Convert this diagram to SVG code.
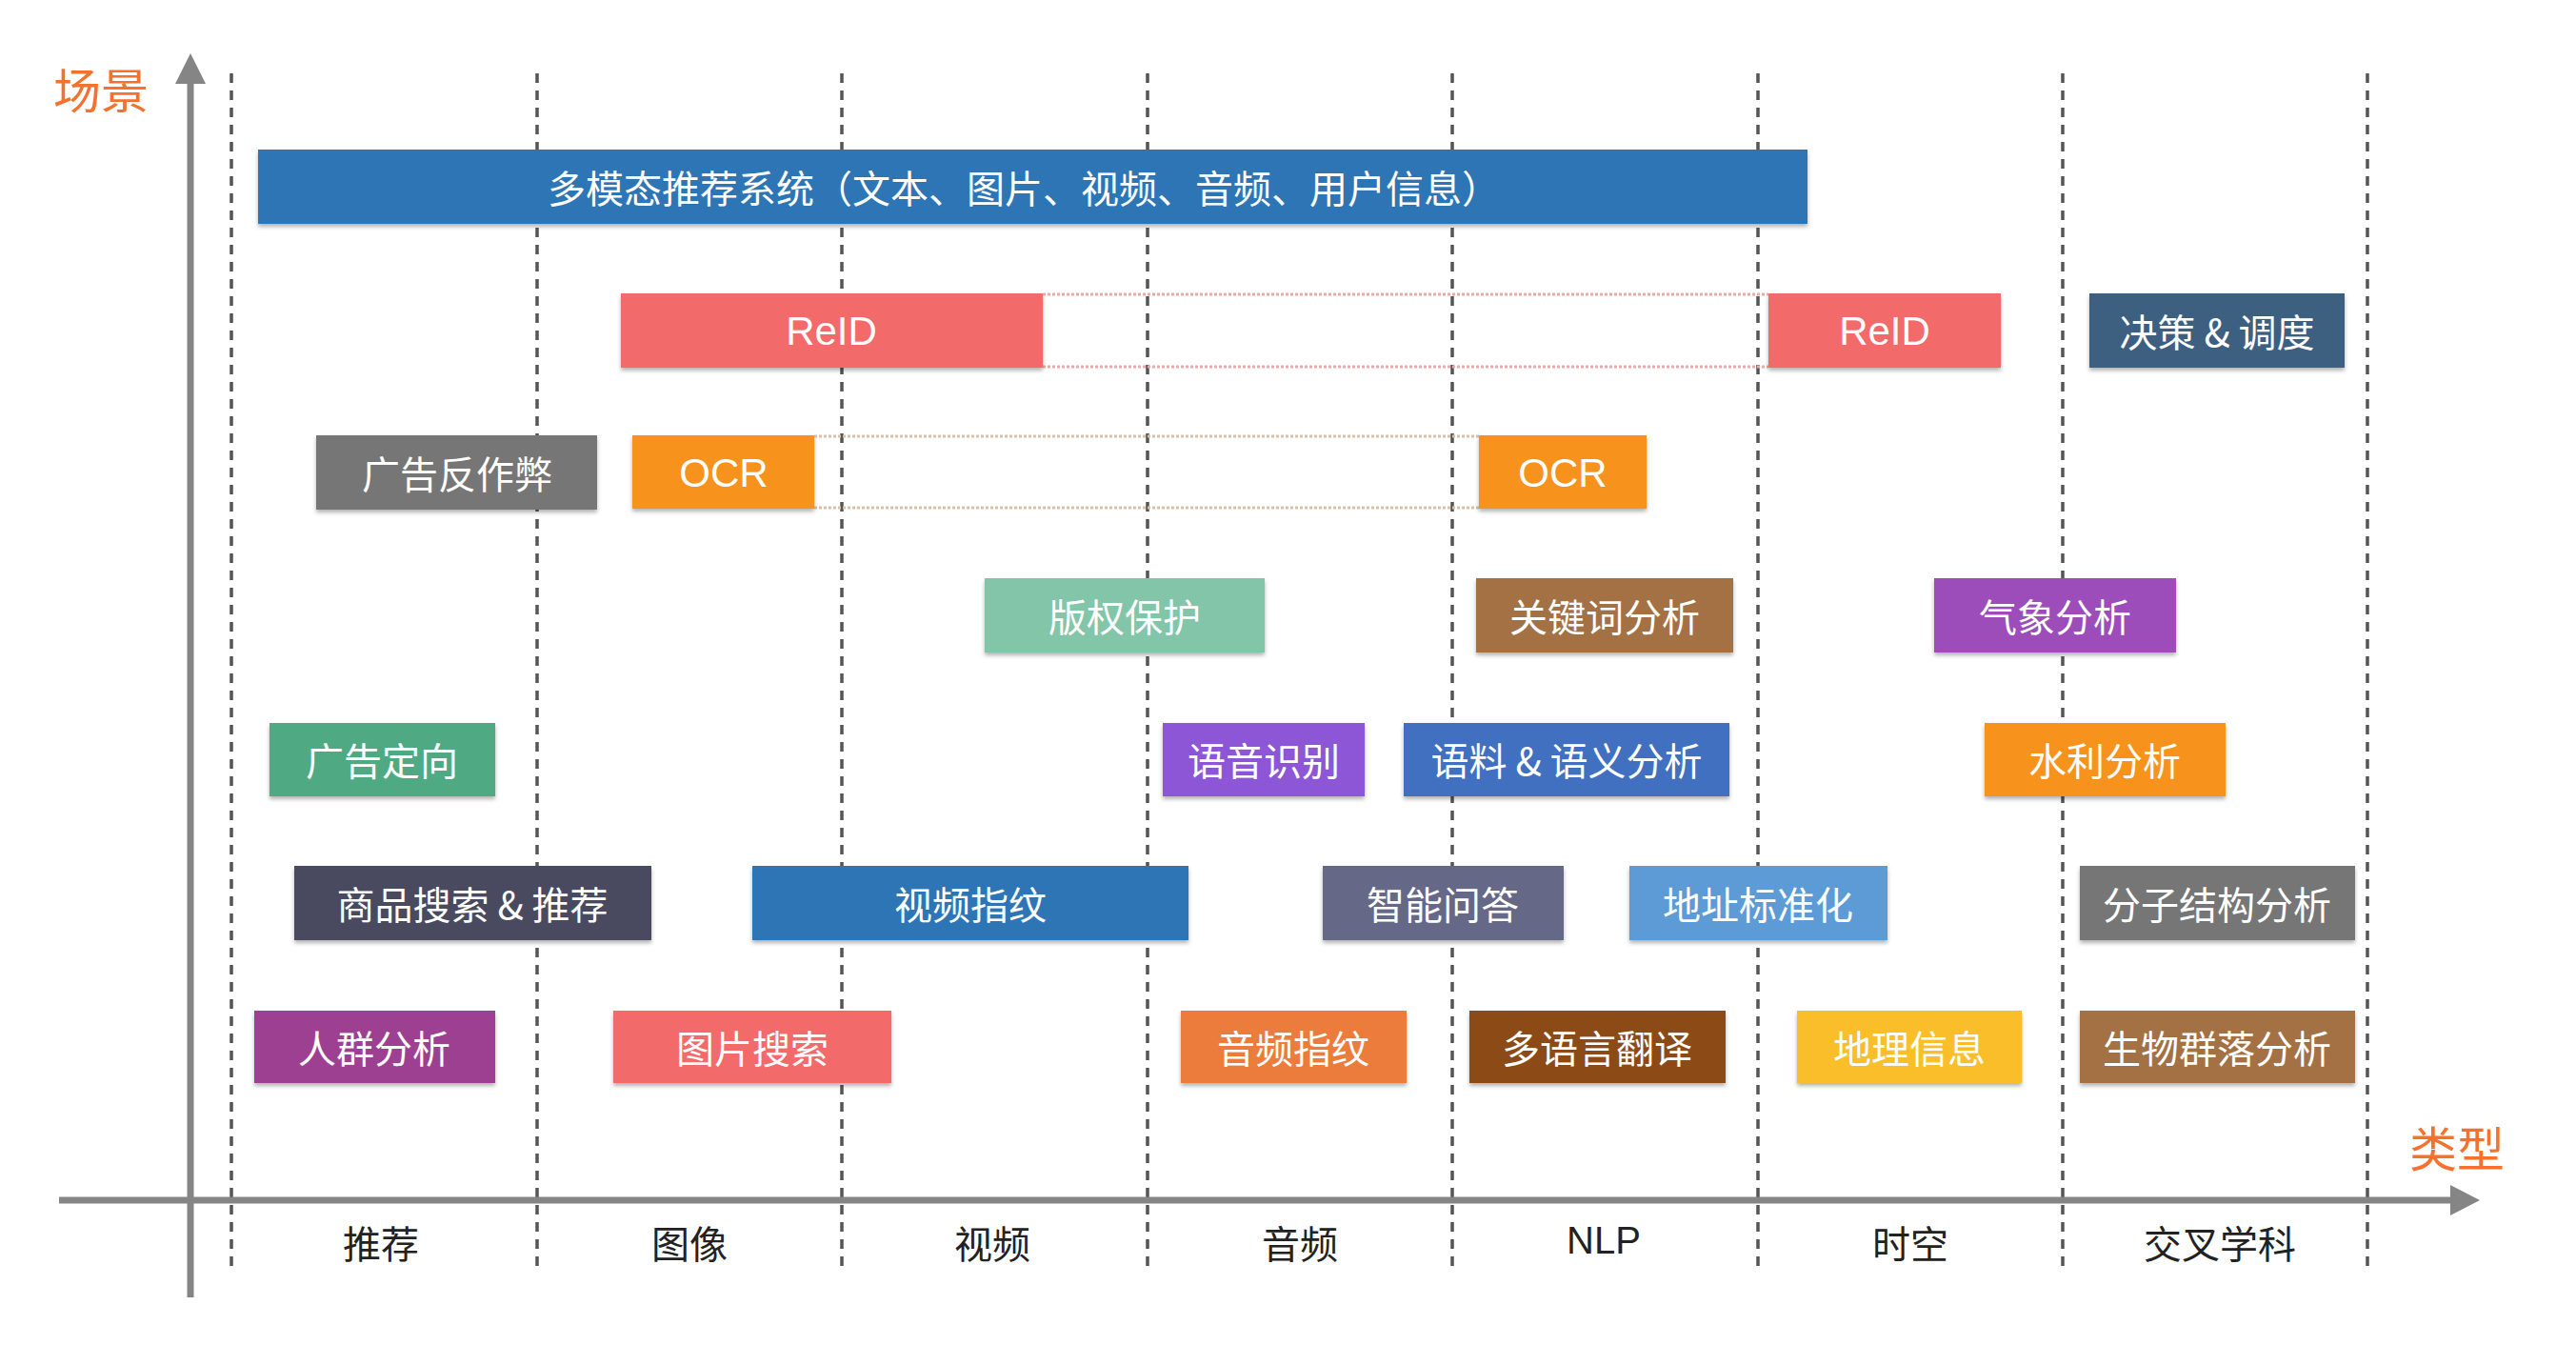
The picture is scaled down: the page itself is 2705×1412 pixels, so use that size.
<svg xmlns="http://www.w3.org/2000/svg" width="2705" height="1412" viewBox="0 0 2705 1412">
<defs>
<style>
.bg{fill:#ffffff}
.grid{stroke:#555;stroke-width:3.5;stroke-dasharray:10 8;fill:none}
.axis{stroke:#858585;stroke-width:7;fill:none}
.axhead{fill:#858585}
.box{filter:url(#sh)}
.t{fill:#ffffff;font-family:'Noto Sans CJK SC',sans-serif;font-size:40px;text-anchor:middle;dominant-baseline:central}
.tl{fill:#ffffff;font-family:'Liberation Sans','Noto Sans CJK SC',sans-serif;font-size:42px;text-anchor:middle;dominant-baseline:central}
.xl{fill:#222;font-family:'Noto Sans CJK SC',sans-serif;font-size:40px;text-anchor:middle;dominant-baseline:central}
.xln{fill:#222;font-family:'Liberation Sans','Noto Sans CJK SC',sans-serif;font-size:40px;text-anchor:middle;dominant-baseline:central}
.ttl{fill:#F5722E;font-family:'Noto Sans CJK SC',sans-serif;font-size:50px;text-anchor:middle;dominant-baseline:central}
.dotr{stroke:#e9aaaa;stroke-width:3;stroke-dasharray:3 2;fill:none}
.doto{stroke:#dcbfa6;stroke-width:3;stroke-dasharray:3 2;fill:none}
</style>
<filter id="sh" x="-5%" y="-10%" width="110%" height="130%">
<feDropShadow dx="0" dy="3" stdDeviation="2" flood-color="#000" flood-opacity="0.3"/>
</filter>
</defs>
<rect class="bg" x="0" y="0" width="2705" height="1412"/>

<g id="grid">
<line class="grid" x1="243" y1="77" x2="243" y2="1333"/>
<line class="grid" x1="564" y1="77" x2="564" y2="1333"/>
<line class="grid" x1="884" y1="77" x2="884" y2="1333"/>
<line class="grid" x1="1205" y1="77" x2="1205" y2="1333"/>
<line class="grid" x1="1525" y1="77" x2="1525" y2="1333"/>
<line class="grid" x1="1846" y1="77" x2="1846" y2="1333"/>
<line class="grid" x1="2166" y1="77" x2="2166" y2="1333"/>
<line class="grid" x1="2486" y1="77" x2="2486" y2="1333"/>
</g>

<g id="axes">
<line class="axis" x1="200" y1="80" x2="200" y2="1362"/>
<polygon class="axhead" points="200,56 216,88 184,88"/>
<line class="axis" x1="62" y1="1260" x2="2580" y2="1260"/>
<polygon class="axhead" points="2604,1260 2573,1244 2573,1276"/>
<text class="ttl" x="106" y="92">场景</text>
<text class="ttl" x="2580" y="1203">类型</text>
</g>

<g id="connectors">
<line class="dotr" x1="1095" y1="309" x2="1857" y2="309"/>
<line class="dotr" x1="1095" y1="385" x2="1857" y2="385"/>
<line class="doto" x1="855" y1="458" x2="1553" y2="458"/>
<line class="doto" x1="855" y1="533" x2="1553" y2="533"/>
</g>

<g id="xlabels">
<text class="xl" x="400" y="1304">推荐</text>
<text class="xl" x="724" y="1304">图像</text>
<text class="xl" x="1042" y="1304">视频</text>
<text class="xl" x="1365" y="1304">音频</text>
<text class="xln" x="1684" y="1302">NLP</text>
<text class="xl" x="2006" y="1304">时空</text>
<text class="xl" x="2331" y="1304">交叉学科</text>
</g>

<g id="n-multimodal"><rect class="box" x="271" y="157" width="1627" height="78" fill="#2E75B6"/><text class="t" x="1075" y="196">多模态推荐系统（文本、图片、视频、音频、用户信息）</text></g>
<g id="n-reid1"><rect class="box" x="652" y="308" width="443" height="78" fill="#F36B6B"/><text class="tl" x="873" y="347">ReID</text></g>
<g id="n-reid2"><rect class="box" x="1857" y="308" width="244" height="78" fill="#F36B6B"/><text class="tl" x="1979" y="347">ReID</text></g>
<g id="n-decision"><rect class="box" x="2194" y="308" width="268" height="78" fill="#3E5F80"/><text class="t" x="2328" y="347">决策 &amp; 调度</text></g>

<g id="n-adfraud"><rect class="box" x="332" y="457" width="295" height="78" fill="#767676"/><text class="t" x="480" y="496">广告反作弊</text></g>
<g id="n-ocr1"><rect class="box" x="664" y="457" width="191" height="77" fill="#F7931E"/><text class="tl" x="760" y="496">OCR</text></g>
<g id="n-ocr2"><rect class="box" x="1553" y="457" width="176" height="77" fill="#F7931E"/><text class="tl" x="1641" y="496">OCR</text></g>

<g id="n-copyright"><rect class="box" x="1034" y="607" width="294" height="78" fill="#83C5A9"/><text class="t" x="1181" y="646">版权保护</text></g>
<g id="n-keyword"><rect class="box" x="1550" y="607" width="270" height="78" fill="#A47145"/><text class="t" x="1685" y="646">关键词分析</text></g>
<g id="n-weather"><rect class="box" x="2031" y="607" width="254" height="78" fill="#9C4DB9"/><text class="t" x="2158" y="646">气象分析</text></g>

<g id="n-adtarget"><rect class="box" x="283" y="759" width="237" height="77" fill="#4FAA84"/><text class="t" x="401" y="797">广告定向</text></g>
<g id="n-asr"><rect class="box" x="1221" y="759" width="212" height="77" fill="#8C56D6"/><text class="t" x="1327" y="797">语音识别</text></g>
<g id="n-corpus"><rect class="box" x="1474" y="759" width="342" height="77" fill="#3F6FBF"/><text class="t" x="1645" y="797">语料 &amp; 语义分析</text></g>
<g id="n-water"><rect class="box" x="2084" y="759" width="253" height="77" fill="#F7931E"/><text class="t" x="2210" y="797">水利分析</text></g>

<g id="n-product"><rect class="box" x="309" y="909" width="375" height="78" fill="#484A61"/><text class="t" x="496" y="948">商品搜索 &amp; 推荐</text></g>
<g id="n-videofp"><rect class="box" x="790" y="909" width="458" height="78" fill="#2E75B6"/><text class="t" x="1019" y="948">视频指纹</text></g>
<g id="n-qa"><rect class="box" x="1389" y="909" width="253" height="78" fill="#656786"/><text class="t" x="1515" y="948">智能问答</text></g>
<g id="n-address"><rect class="box" x="1711" y="909" width="271" height="78" fill="#5B9BD5"/><text class="t" x="1846" y="948">地址标准化</text></g>
<g id="n-molecule"><rect class="box" x="2184" y="909" width="289" height="78" fill="#767676"/><text class="t" x="2328" y="948">分子结构分析</text></g>

<g id="n-crowd"><rect class="box" x="267" y="1061" width="253" height="76" fill="#9E3F92"/><text class="t" x="393" y="1099">人群分析</text></g>
<g id="n-imgsearch"><rect class="box" x="644" y="1061" width="292" height="76" fill="#F36B6B"/><text class="t" x="790" y="1099">图片搜索</text></g>
<g id="n-audiofp"><rect class="box" x="1240" y="1061" width="237" height="76" fill="#EC7B3B"/><text class="t" x="1358" y="1099">音频指纹</text></g>
<g id="n-translate"><rect class="box" x="1543" y="1061" width="269" height="76" fill="#8C4B12"/><text class="t" x="1677" y="1099">多语言翻译</text></g>
<g id="n-geo"><rect class="box" x="1887" y="1061" width="236" height="76" fill="#F9BE2C"/><text class="t" x="2005" y="1099">地理信息</text></g>
<g id="n-biome"><rect class="box" x="2184" y="1061" width="289" height="76" fill="#A47145"/><text class="t" x="2328" y="1099">生物群落分析</text></g>
</svg>
